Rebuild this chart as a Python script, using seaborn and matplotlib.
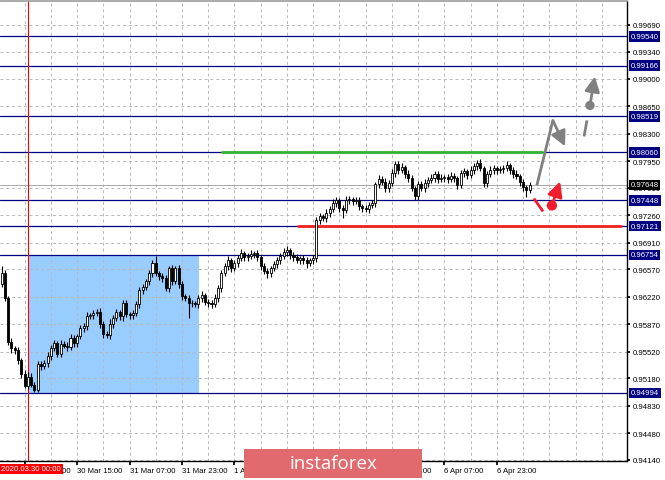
import numpy as np
import pandas as pd
import matplotlib
matplotlib.use("Agg")
import matplotlib.pyplot as plt
from matplotlib.patches import Rectangle
import seaborn as sns

# H1 bars, index 0 = 2020.03.30 00:00, first bar is index -8
bar_start = -8
first_open = 0.96389
closes = [
    0.96517, 0.96199, 0.95650, 0.95561, 0.95536, 0.95408, 0.95242, 0.95089, 0.95204, 0.95102,
    0.95026, 0.95357, 0.95332, 0.95370, 0.95459, 0.95561, 0.95625, 0.95497, 0.95612, 0.95599,
    0.95574, 0.95689, 0.95625, 0.95714, 0.95816, 0.95842, 0.95969, 0.95982, 0.96007, 0.96020,
    0.95867, 0.95740, 0.95727, 0.95867, 0.95944, 0.96020, 0.95969, 0.96135, 0.95995, 0.95982,
    0.96007, 0.96122, 0.96301, 0.96339, 0.96415, 0.96517, 0.96645, 0.96517, 0.96479, 0.96454,
    0.96326, 0.96581, 0.96415, 0.96581, 0.96377, 0.96224, 0.96199, 0.96135, 0.96135, 0.96122,
    0.96199, 0.96237, 0.96148, 0.96135, 0.96122, 0.96199, 0.96326, 0.96517, 0.96607, 0.96683,
    0.96581, 0.96645, 0.96709, 0.96772, 0.96721, 0.96734, 0.96760, 0.96772, 0.96721, 0.96607,
    0.96543, 0.96517, 0.96581, 0.96632, 0.96683, 0.96734, 0.96785, 0.96811, 0.96747, 0.96721,
    0.96683, 0.96709, 0.96683, 0.96645, 0.96683, 0.96709, 0.97193, 0.97244, 0.97219, 0.97282,
    0.97333, 0.97410, 0.97448, 0.97346, 0.97321, 0.97448, 0.97461, 0.97435, 0.97448, 0.97372,
    0.97346, 0.97333, 0.97384, 0.97410, 0.97652, 0.97716, 0.97678, 0.97601, 0.97665, 0.97792,
    0.97907, 0.97831, 0.97869, 0.97780, 0.97729, 0.97601, 0.97499, 0.97652, 0.97601, 0.97665,
    0.97703, 0.97729, 0.97780, 0.97716, 0.97729, 0.97741, 0.97716, 0.97754, 0.97729, 0.97639,
    0.97792, 0.97818, 0.97767, 0.97831, 0.97882, 0.97920, 0.97856, 0.97665, 0.97780, 0.97831,
    0.97856, 0.97831, 0.97843, 0.97856, 0.97894, 0.97831, 0.97780, 0.97754, 0.97678, 0.97614,
    0.97576, 0.97648,
]
# wick lengths in pips above/below the body
wick_up = [
    10, 4, 3, 5, 3, 4, 3, 4, 6, 5,
    3, 4, 5, 4, 6, 4, 5, 3, 6, 4,
    5, 6, 4, 3, 5, 4, 6, 3, 4, 5,
    6, 4, 5, 7, 4, 5, 3, 4, 5, 3,
    4, 4, 5, 4, 3, 5, 4, 10, 3, 4,
    5, 3, 4, 3, 5, 4, 3, 4, 5, 3,
    4, 6, 3, 4, 5, 6, 4, 5, 4, 6,
    3, 5, 4, 6, 3, 4, 5, 3, 4, 3,
    4, 5, 3, 4, 5, 4, 6, 5, 3, 4,
    5, 3, 4, 5, 3, 4, 4, 5, 3, 6,
    4, 5, 4, 3, 4, 6, 4, 3, 5, 4,
    3, 4, 5, 4, 3, 6, 4, 5, 4, 6,
    5, 4, 6, 3, 5, 4, 3, 5, 4, 6,
    4, 5, 4, 4, 5, 3, 4, 6, 4, 3,
    5, 4, 3, 6, 4, 4, 5, 3, 4, 5,
    4, 3, 5, 4, 6, 3, 4, 5, 3, 4,
    3, 4,
]
wick_dn = [
    5, 3, 4, 6, 4, 5, 6, 3, 4, 3,
    2, 2, 4, 3, 5, 4, 3, 5, 4, 3,
    4, 3, 5, 4, 3, 4, 5, 3, 4, 3,
    4, 5, 3, 4, 5, 3, 4, 6, 3, 4,
    5, 3, 4, 5, 3, 4, 5, 3, 4, 5,
    3, 4, 5, 3, 4, 5, 3, 19, 4, 3,
    5, 4, 3, 4, 5, 3, 4, 5, 3, 4,
    5, 3, 4, 3, 4, 5, 3, 4, 5, 4,
    3, 6, 4, 3, 5, 4, 3, 4, 5, 4,
    3, 5, 4, 6, 3, 4, 5, 4, 3, 4,
    5, 3, 4, 5, 10, 3, 4, 5, 3, 4,
    5, 3, 4, 3, 4, 5, 3, 4, 5, 3,
    4, 5, 3, 4, 5, 3, 5, 4, 3, 5,
    4, 3, 5, 4, 3, 4, 5, 3, 4, 4,
    3, 5, 4, 3, 4, 5, 3, 4, 5, 3,
    4, 5, 3, 4, 3, 5, 4, 3, 4, 4,
    8, 3,
]

levels = [0.99540, 0.99166, 0.98519, 0.98060, 0.97448, 0.97121, 0.96754, 0.94994]
price_ticks = [0.99690, 0.99340, 0.99000, 0.98650, 0.98300, 0.97950, 0.97610, 0.97260,
               0.96910, 0.96570, 0.96220, 0.95870, 0.95520, 0.95180, 0.94830, 0.94480, 0.94140]
last_price = 0.97648

time_ticks = [-1, 15, 31, 47, 63, 79, 95, 111, 127, 143]
time_labels = ["27 Mar 23:00", "30 Mar 15:00", "31 Mar 07:00", "31 Mar 23:00", "1 Apr 15:00",
               "2 Apr 07:00", "2 Apr 23:00", "3 Apr 15:00", "6 Apr 07:00", "6 Apr 23:00"]
grid_x = list(range(-1, 183, 8))

box_x = [0, 52.2]
box_y = [0.94994, 0.96754]
green_x = [59.3, 156.8]
green_y = 0.98060
red_x = [82.3, 181.0]
red_y = 0.97121

# forecast arrows
gray_x = [155.2, 160.1, 163.8]
gray_y = [0.97639, 0.98468, 0.98137]
gray2_x = [169.6, 170.5, 171.4, 172.9]
gray2_y = [0.98264, 0.98468, 0.98659, 0.99029]
red_arr_x = [154.3, 157.1, 159.8, 162.3]
red_arr_y = [0.97473, 0.97308, 0.97384, 0.97690]

n = len(closes)
df = pd.DataFrame({"bar": np.arange(bar_start, bar_start + n), "close": closes})
df["open"] = [first_open] + closes[:-1]
body_top = df[["open", "close"]].max(axis=1)
body_bot = df[["open", "close"]].min(axis=1)
df["high"] = body_top + np.array(wick_up) * 0.0001
df["low"] = body_bot - np.array(wick_dn) * 0.0001

sns.set_theme(style="white")
plt.rcParams["font.family"] = ["Liberation Sans", "DejaVu Sans"]
fs = 5.6

fig = plt.figure(figsize=(6.65, 4.81), dpi=100)
ax = fig.add_axes([0, 19 / 481, 627 / 665, 460 / 481])
ax.set_xlim(-8.5, 182.7)
ax.set_ylim(0.94127, 0.99990)

ax.add_patch(Rectangle((box_x[0], box_y[0]), box_x[1] - box_x[0], box_y[1] - box_y[0],
                       facecolor="#99ccff", edgecolor="none", zorder=0.5))

for p in price_ticks:
    ax.axhline(p, color="#b8b8b8", lw=0.7, ls=(0, (3, 3)), zorder=1)
for g in grid_x:
    ax.axvline(g, color="#b8b8b8", lw=0.7, ls=(0, (3, 3)), zorder=1)

for lv in levels:
    ax.axhline(lv, color="#000080", lw=0.9, zorder=2)
ax.axhline(last_price, color="#a8a8a8", lw=0.7, zorder=2)
ax.plot(green_x, [green_y, green_y], color="#33b233", lw=2, zorder=2.2)
ax.plot(red_x, [red_y, red_y], color="#ee2222", lw=2, zorder=2.2)
ax.axvline(0, color="red", lw=0.8, zorder=2.3)

# candles
ax.vlines(df["bar"], df["low"], df["high"], color="black", lw=0.8, zorder=3)
heights = np.maximum(body_top - body_bot, 0.00003)
colors = np.where(df["close"] >= df["open"], "white", "black")
ax.bar(df["bar"], heights, bottom=body_bot, width=0.62, color=colors,
       edgecolor="black", linewidth=0.6, zorder=4)

# forecast arrows
gray = "#808080"
red = "#f01e2c"
head = "-|>,head_length=0.9,head_width=0.45"
ax.plot(gray_x[:2], gray_y[:2], color=gray, lw=2, zorder=5, solid_capstyle="butt")
ax.annotate("", xy=(gray_x[2], gray_y[2]), xytext=(gray_x[1], gray_y[1]),
            arrowprops=dict(arrowstyle=head, color=gray, lw=2, mutation_scale=10,
                            shrinkA=0, shrinkB=0), zorder=5)
ax.plot(gray2_x[:2], gray2_y[:2], color=gray, lw=2, zorder=5, solid_capstyle="butt")
ax.annotate("", xy=(gray2_x[3], gray2_y[3]), xytext=(gray2_x[2], gray2_y[2]),
            arrowprops=dict(arrowstyle=head, color=gray, lw=2, mutation_scale=10,
                            shrinkA=0, shrinkB=0), zorder=5)
ax.plot(red_arr_x[:2], red_arr_y[:2], color=red, lw=2, zorder=5, solid_capstyle="butt")
ax.annotate("", xy=(red_arr_x[3], red_arr_y[3]), xytext=(red_arr_x[2], red_arr_y[2]),
            arrowprops=dict(arrowstyle=head, color=red, lw=2, mutation_scale=10,
                            shrinkA=0, shrinkB=0), zorder=5)
sns.scatterplot(x=[gray2_x[2]], y=[gray2_y[2]], color=gray, s=45, edgecolor="none", ax=ax, zorder=6)
sns.scatterplot(x=[red_arr_x[2]], y=[red_arr_y[2]], color=red, s=55, edgecolor="none", ax=ax, zorder=6)

# axes
ax.yaxis.tick_right()
ax.set_yticks(price_ticks)
ax.set_yticklabels([f"{p:.5f}" for p in price_ticks])
ax.set_xticks(time_ticks)
ax.set_xticklabels(time_labels)
for lbl in ax.get_xticklabels():
    lbl.set_ha("left")
ax.tick_params(axis="y", right=True, left=False, length=2, pad=1.8, labelsize=fs,
               colors="black", direction="out")
ax.tick_params(axis="x", bottom=True, length=3, pad=1.5, labelsize=fs, colors="black",
               direction="out")
for s in ["right", "bottom"]:
    ax.spines[s].set_color("black")
    ax.spines[s].set_linewidth(1)
ax.spines["top"].set_color("#a0a0a0")
ax.spines["left"].set_visible(False)

label_kw = dict(xycoords=("axes fraction", "data"), xytext=(2.6, 0), textcoords="offset points",
                ha="left", va="center", fontsize=fs, color="white", annotation_clip=False,
                zorder=10)
for lv in levels:
    ax.annotate(f"{lv:.5f}", xy=(1, lv),
                bbox=dict(boxstyle="square,pad=0.22", fc="#000080", ec="none"), **label_kw)
ax.annotate(f"{last_price:.5f}", xy=(1, last_price),
            bbox=dict(boxstyle="square,pad=0.22", fc="black", ec="none"), **label_kw)

# separator label at the left edge
ax.annotate("2020.03.30 00:00", xy=(0, 0), xycoords="axes fraction", xytext=(1.0, -3.0),
            textcoords="offset points", ha="left", va="top", fontsize=fs, color="white",
            bbox=dict(boxstyle="square,pad=0.18", fc="red", ec="none"), annotation_clip=False,
            zorder=10)

# watermark
fig.patches.append(Rectangle((244 / 665, 2 / 481), 178 / 665, 29 / 481, transform=fig.transFigure,
                             facecolor="#e06a6e", edgecolor="none", zorder=20))
fig.text(333 / 665, 17 / 481, "instaforex", ha="center", va="center", fontsize=13.5,
         color="white", family="Open Sans", zorder=21)

fig.savefig("out.png", dpi=100)
plt.close(fig)
